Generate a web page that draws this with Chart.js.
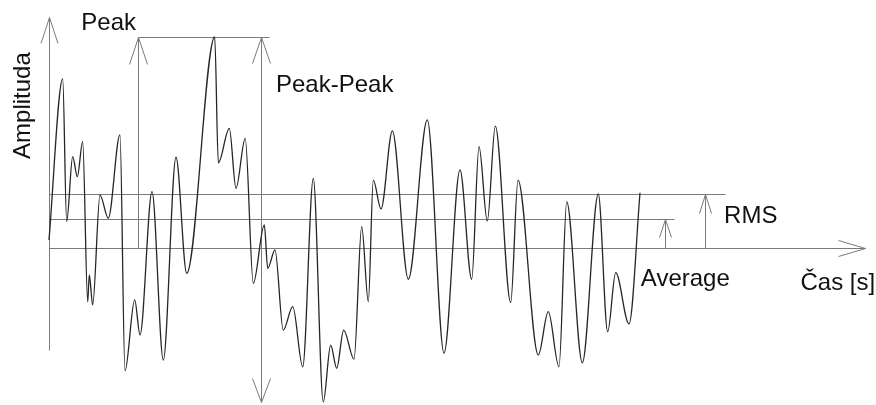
<!DOCTYPE html>
<html>
<head>
<meta charset="utf-8">
<script src="https://cdn.jsdelivr.net/npm/chart.js@4/dist/chart.umd.min.js"></script>
<style>
  html, body { margin: 0; padding: 0; background: #fff; }
  #wrap { width: 876px; height: 405px; }
</style>
</head>
<body>
<div id="wrap"><canvas id="chart" width="876" height="405"></canvas></div>
<script>
// signal (time in arbitrary units, amplitude with peak = 10)
const timeS = [0, 2.32, 2.99, 4.01, 4.79, 5.70, 6.55, 6.82, 7.39, 8.63, 10.03, 12.01, 12.86, 14.50,
  15.40, 17.43, 19.34, 21.49, 23.30, 28.04, 28.65, 30.51, 31.64, 33.20, 34.57, 36.43, 37.01, 38.24,
  39.64, 41.24, 42.93, 44.72, 46.41, 47.66, 48.68, 49.86, 51.61, 52.91, 54.03, 54.87, 56.18, 58.09,
  60.80, 64.01, 66.84, 69.54, 71.52, 72.76, 74.16, 75.52, 78.12, 79.36, 82.79, 84.48, 86.29, 87.60,
  90.24, 92.94, 94.53, 95.89, 98.14, 100];
const amplitude = [0.38, 8.01, 1.25, 4.33, 3.38, 5.04, -2.55, -1.28, -2.70, 2.51, 1.41, 5.36, -5.82, -2.46,
  -4.12, 2.67, -5.31, 4.30, -1.20, 10.0, 4.04, 5.67, 2.83, 5.20, -1.67, 1.09, -0.96, -0.09,
  -3.89, -2.78, -5.63, 3.30, -7.30, -4.60, -5.70, -3.89, -5.27, 1.01, -2.55, 3.22, 1.85, 5.55,
  -1.48, 6.07, -4.98, 3.70, -1.48, 4.80, 1.28, 5.78, -2.59, 3.22, -5.07, -3.02, -5.63, 2.19,
  -5.44, 2.56, -3.97, -1.17, -3.60, 2.62];

const peakLevel = 10.0;
const rmsLevel = 2.56;
const averageLevel = 1.37;

const yTitle = 'Amplituda';
const xTitle = 'Čas [s]';
const peakLabel = 'Peak';
const peakPeakLabel = 'Peak-Peak';
const rmsLabel = 'RMS';
const averageLabel = 'Average';

const FONT = '24px "Liberation Sans", Arial, sans-serif';
const GRAY = '#7a7a7a';

function line(ctx, x1, y1, x2, y2) {
  ctx.beginPath();
  ctx.moveTo(x1, y1);
  ctx.lineTo(x2, y2);
  ctx.stroke();
}

// open "V" arrow head, tip at (x, y), pointing along (dx, dy)
function arrowHead(ctx, x, y, dx, dy, len, half) {
  const px = -dy, py = dx;
  ctx.beginPath();
  ctx.moveTo(x - dx * len + px * half, y - dy * len + py * half);
  ctx.lineTo(x, y);
  ctx.lineTo(x - dx * len - px * half, y - dy * len - py * half);
  ctx.stroke();
}

const diagramPlugin = {
  id: 'diagram',
  beforeDatasetsDraw(chart) {
    const ctx = chart.ctx;
    const xs = chart.scales.x, ys = chart.scales.y;
    const X = v => Math.round(xs.getPixelForValue(v)) + 0.5;
    const Y = v => Math.round(ys.getPixelForValue(v)) + 0.5;
    const x0 = X(0), y0 = Y(0);
    ctx.save();
    ctx.strokeStyle = GRAY;
    ctx.lineWidth = 1;

    // axes
    const yTop = Y(10.95), yBottom = Y(-4.83);
    line(ctx, x0, yBottom, x0, yTop);
    arrowHead(ctx, x0, yTop, 0, -1, 26, 8.5);
    const xEnd = X(138.1);
    line(ctx, x0, y0, xEnd, y0);
    arrowHead(ctx, xEnd, y0, 1, 0, 27, 8);

    // peak
    const pkX = X(15.06), ppX = X(35.87), pkY = Y(peakLevel);
    line(ctx, pkX, pkY, X(37.2), pkY);
    line(ctx, pkX, y0, pkX, pkY);
    arrowHead(ctx, pkX, pkY, 0, -1, 27, 9);

    // peak-peak
    const minY = Y(Math.min(...amplitude));
    line(ctx, ppX, pkY, ppX, minY);
    arrowHead(ctx, ppX, pkY, 0, -1, 26, 9);
    arrowHead(ctx, ppX, minY, 0, 1, 24, 9);

    // rms
    const rmsY = Y(rmsLevel), rmsX = X(111.0);
    line(ctx, x0, rmsY, X(114.4), rmsY);
    line(ctx, rmsX, y0, rmsX, rmsY);
    arrowHead(ctx, rmsX, rmsY, 0, -1, 19, 6);

    // average
    const avY = Y(averageLevel), avX = X(104.2);
    line(ctx, x0, avY, X(105.75), avY);
    line(ctx, avX, y0, avX, avY);
    arrowHead(ctx, avX, avY, 0, -1, 18, 6);
    ctx.restore();
  },
  afterDraw(chart) {
    const ctx = chart.ctx;
    const xs = chart.scales.x, ys = chart.scales.y;
    const X = v => xs.getPixelForValue(v);
    const Y = v => ys.getPixelForValue(v);
    const y0 = Y(0);
    ctx.save();
    ctx.font = FONT;
    ctx.fillStyle = '#111';
    ctx.textBaseline = 'alphabetic';

    ctx.textAlign = 'right';
    ctx.fillText(peakLabel, X(15.06) - 2, Y(peakLevel) - 7);
    ctx.fillText(xTitle, X(138.1) + 10, y0 + 42);

    ctx.textAlign = 'left';
    ctx.fillText(peakPeakLabel, X(35.87) + 15, Y(peakLevel) + 55);
    ctx.fillText(rmsLabel, X(114.4) - 1, Y(rmsLevel) + 29);
    ctx.fillText(averageLabel, X(104.2) - 24, y0 + 38);

    ctx.translate(30, Y(6.75));
    ctx.rotate(-Math.PI / 2);
    ctx.textAlign = 'center';
    ctx.fillText(yTitle, 0, 0);
    ctx.restore();
  }
};

const signalPoints = timeS.map((t, i) => ({ x: t, y: amplitude[i] }));

new Chart(document.getElementById('chart'), {
  type: 'line',
  data: {
    datasets: [{
      data: signalPoints,
      borderColor: '#262626',
      borderWidth: 1.3,
      pointRadius: 0,
      fill: false,
      cubicInterpolationMode: 'monotone'
    }]
  },
  options: {
    responsive: false,
    animation: false,
    layout: { padding: 0 },
    plugins: { legend: { display: false }, tooltip: { enabled: false } },
    scales: {
      x: { type: 'linear', min: -8.29, max: 139.93, display: false },
      y: { min: -7.441, max: 11.754, display: false }
    }
  },
  plugins: [diagramPlugin]
});
</script>
</body>
</html>
